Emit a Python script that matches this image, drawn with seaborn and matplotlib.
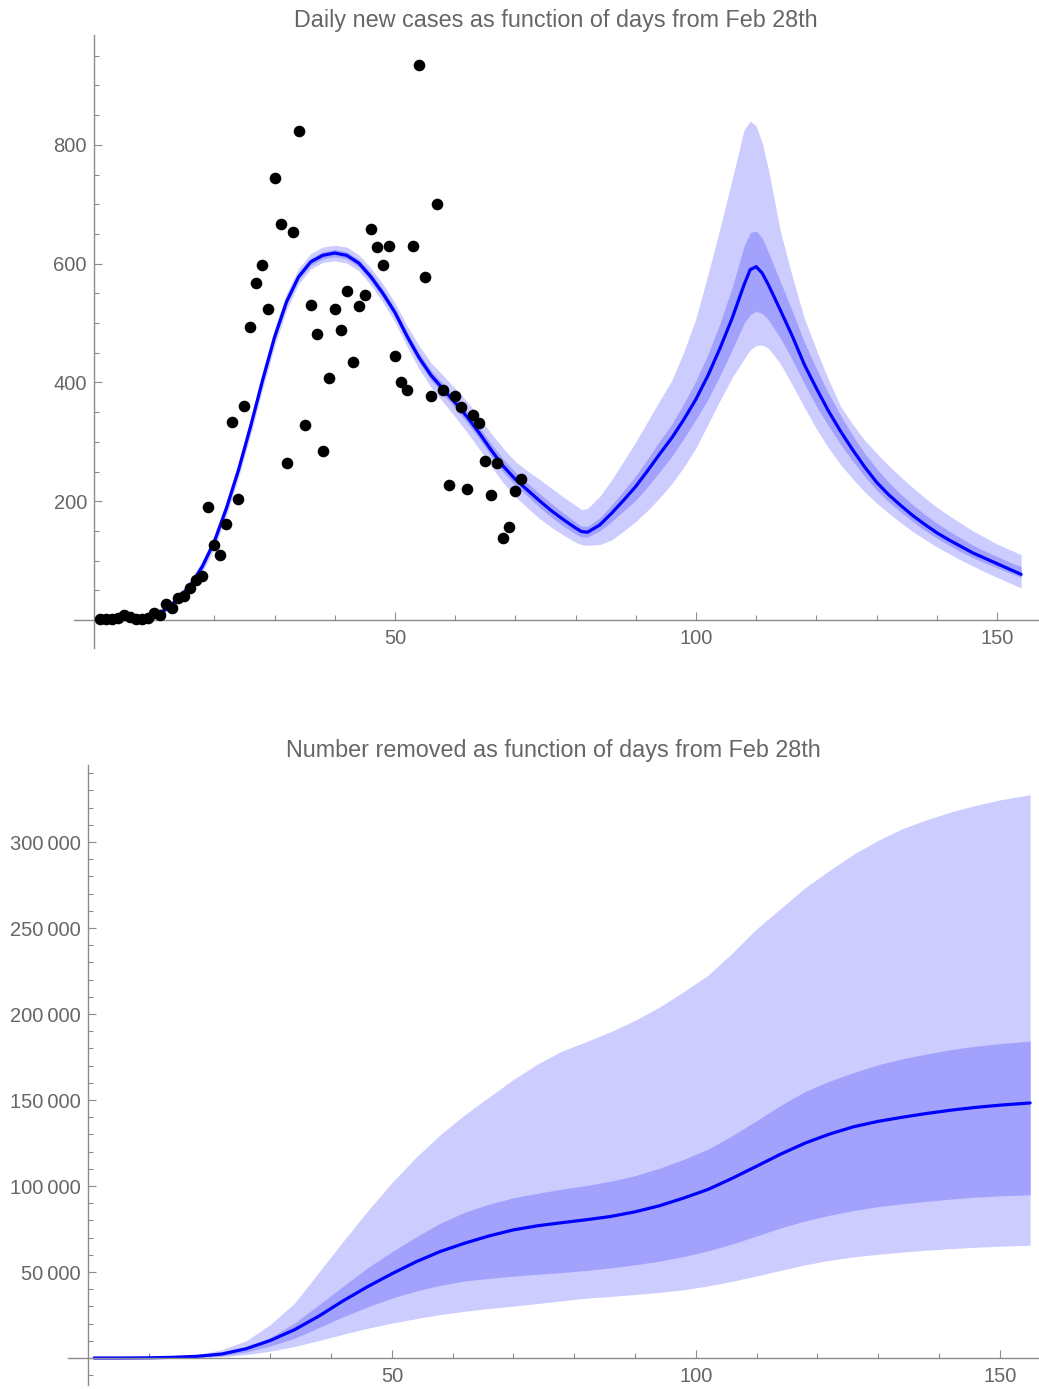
import numpy as np
import pandas as pd
import matplotlib
matplotlib.use("Agg")
import matplotlib.pyplot as plt
from matplotlib.ticker import FixedLocator, MultipleLocator, FuncFormatter
import seaborn as sns

sns.set_style("white")
plt.rcParams['font.family'] = ['Liberation Sans', 'DejaVu Sans']

# observed daily new cases (days from Feb 28th)
obs_day = list(range(1, 72))
obs_cases = [2, 2, 2, 4, 8, 5, 1, 1, 3, 12, 8, 27, 20, 38, 41, 54, 68, 74, 191, 127,
             110, 161, 334, 204, 361, 494, 567, 597, 524, 744, 667, 264, 654, 824, 328,
             530, 481, 284, 408, 524, 488, 554, 434, 528, 548, 658, 628, 597, 630, 444,
             401, 388, 630, 934, 578, 377, 701, 388, 228, 377, 358, 221, 345, 331, 267,
             211, 264, 138, 157, 217, 238]

# model for daily new cases
t_day = [1, 4, 7, 10, 12, 14, 16, 18, 20, 22, 24, 26, 28, 30, 32, 34, 36, 38, 40, 42,
         44, 46, 48, 50, 52, 54, 56, 58, 60, 62, 64, 66, 68, 70, 72, 74, 76, 78, 80, 81,
         82, 84, 86, 88, 90, 92, 94, 96, 98, 100, 102, 104, 106, 108, 109, 110, 111, 112,
         114, 116, 118, 120, 122, 124, 126, 128, 130, 132, 134, 136, 138, 140, 142, 144,
         146, 148, 150, 152, 154]
t_mean = [0.5, 1, 2.5, 8, 18, 36, 58, 90, 132, 188, 252, 325, 403, 476, 536, 578, 603,
          614, 618, 614, 601, 578, 550, 518, 478, 442, 412, 389, 366, 342, 315, 286, 259,
          237, 219, 201, 184, 169, 155, 149, 148, 160, 180, 202, 225, 252, 280, 307, 338,
          372, 412, 458, 508, 565, 590, 595, 584, 565, 522, 478, 430, 390, 352, 318, 287,
          258, 232, 211, 193, 176, 161, 147, 135, 124, 113, 104, 95, 86, 77]
t_in_hi = [0.8, 1.5, 3.2, 9.5, 20, 39, 61, 94, 136, 192, 256, 330, 408, 481, 541, 583,
           609, 620, 624, 620, 607, 585, 557, 525, 486, 450, 420, 398, 375, 352, 325, 297,
           271, 249, 231, 213, 196, 180, 165, 158, 158, 172, 194, 218, 243, 272, 302, 330,
           365, 403, 448, 500, 560, 630, 652, 655, 643, 620, 570, 520, 468, 423, 382, 345,
           311, 281, 255, 232, 212, 194, 178, 163, 150, 138, 126, 116, 107, 98, 90]
t_in_lo = [0.3, 0.6, 1.8, 6.5, 16, 33, 55, 86, 128, 184, 248, 320, 398, 471, 531, 573,
           597, 608, 612, 608, 595, 571, 543, 511, 470, 434, 404, 380, 357, 332, 305, 276,
           249, 227, 209, 190, 173, 158, 145, 140, 140, 150, 166, 184, 202, 225, 250, 276,
           306, 338, 372, 412, 455, 500, 514, 520, 516, 506, 475, 438, 398, 360, 327, 296,
           268, 242, 219, 199, 182, 166, 151, 138, 126, 115, 105, 96, 88, 80, 72]
t_out_hi = [1.2, 2.2, 4.5, 12, 24, 44, 67, 100, 143, 200, 265, 339, 418, 491, 550, 592,
            617, 628, 631, 628, 615, 593, 566, 534, 496, 462, 433, 412, 390, 368, 342, 314,
            289, 267, 251, 237, 222, 207, 193, 186, 188, 208, 236, 268, 300, 335, 370, 404,
            452, 508, 582, 660, 742, 826, 840, 832, 803, 760, 655, 578, 508, 455, 405, 360,
            330, 303, 281, 260, 241, 223, 206, 190, 176, 163, 150, 139, 128, 119, 110]
t_out_lo = [0.1, 0.3, 1.2, 5, 13, 30, 51, 80, 121, 176, 239, 311, 388, 461, 522, 566,
            591, 602, 605, 601, 588, 564, 535, 502, 461, 423, 392, 367, 342, 316, 288, 258,
            231, 208, 189, 171, 156, 143, 131, 127, 126, 127, 135, 150, 166, 185, 206, 230,
            258, 290, 330, 370, 408, 440, 455, 462, 463, 458, 432, 396, 358, 322, 290, 262,
            238, 216, 197, 180, 164, 149, 136, 123, 112, 101, 91, 81, 72, 63, 54]

# model for number removed
b_day = [1, 5, 10, 14, 18, 22, 26, 30, 34, 38, 42, 46, 50, 54, 58, 62, 66, 70, 74, 78,
         82, 86, 90, 94, 98, 102, 106, 110, 114, 118, 122, 126, 130, 134, 138, 142, 146,
         150, 155]
b_mean = [0, 0, 100, 400, 1000, 2300, 5400, 10200, 16500, 24400, 33300, 41500, 49000,
          56000, 62000, 66800, 71000, 74500, 76900, 78700, 80400, 82300, 85000, 88500,
          93000, 98000, 104500, 111500, 118600, 125000, 130200, 134500, 137600, 140000,
          142200, 144100, 145700, 147000, 148300]
b_in_hi = [0, 0, 100, 400, 700, 1800, 6000, 12000, 20400, 31000, 41800, 52500, 61800,
           70500, 78500, 84800, 89500, 93200, 95800, 98200, 100300, 102800, 106000, 110300,
           115500, 121400, 129300, 138000, 147000, 155000, 161000, 166000, 170500, 174000,
           176800, 179300, 181300, 182800, 184300]
b_in_lo = [0, 0, 50, 250, 500, 1200, 3500, 7000, 11500, 17700, 24000, 29700, 34800, 39000,
           42300, 44800, 46300, 47600, 48700, 49700, 50900, 52400, 54200, 56300, 59000,
           62300, 66300, 71000, 75700, 79700, 83000, 85800, 88000, 89700, 91100, 92400,
           93500, 94300, 94900]
b_out_hi = [0, 0, 150, 600, 2000, 4800, 10000, 19500, 32000, 50000, 68000, 85500, 102000,
            116800, 130000, 141500, 151800, 162000, 171000, 178500, 184000, 189700, 196300,
            204000, 213000, 222500, 235500, 249500, 261500, 273500, 283500, 293000, 301000,
            307800, 313000, 317500, 321300, 324500, 327500]
b_out_lo = [0, 0, 30, 150, 350, 800, 2000, 4000, 6700, 10200, 13800, 17300, 20300, 22900,
            25300, 27200, 28800, 30200, 31700, 33300, 34800, 35800, 36900, 38100, 39700,
            41900, 44600, 47700, 51000, 54200, 56800, 58800, 60300, 61600, 62700, 63600,
            64400, 65000, 65600]

OUTER = '#ccccff'
INNER = '#a2a2fd'
LINE = '#0000ff'
GREY_TXT = '#666666'
GREY_AX = '#8c8c8c'


def style_axes(ax, ymajor, yminor, xlim, ylim, yfmt=None):
    ax.set_xlim(*xlim)
    ax.set_ylim(*ylim)
    for s in ['top', 'right']:
        ax.spines[s].set_visible(False)
    ax.spines['left'].set_position(('data', 0))
    ax.spines['bottom'].set_position(('data', 0))
    for s in ['left', 'bottom']:
        ax.spines[s].set_color(GREY_AX)
        ax.spines[s].set_linewidth(1.0)
    ax.xaxis.set_major_locator(FixedLocator([50, 100, 150]))
    ax.xaxis.set_minor_locator(FixedLocator([10, 20, 30, 40, 60, 70, 80, 90, 110, 120, 130, 140]))
    ax.yaxis.set_major_locator(FixedLocator(ymajor))
    ax.yaxis.set_minor_locator(MultipleLocator(yminor))
    if yfmt is not None:
        ax.yaxis.set_major_formatter(FuncFormatter(yfmt))
    # seaborn "white" switches the tick marks off, bring them back
    ax.tick_params(which='both', bottom=True, left=True, top=False, right=False,
                   direction='in', color=GREY_AX, width=0.8,
                   labelcolor=GREY_TXT, labelsize=14.5)
    ax.tick_params(which='major', length=6)
    ax.tick_params(which='minor', length=3.5)
    ax.tick_params(axis='y', pad=5)
    ax.tick_params(axis='x', pad=6.5)
    ax.set_xlabel('')
    ax.set_ylabel('')
    ax.grid(False)


fig = plt.figure(figsize=(10.39, 13.89), dpi=100)

# top: daily new cases
ax1 = fig.add_axes([74 / 1039, 1 - 648 / 1389, 964 / 1039, 613 / 1389])
ax1.fill_between(t_day, t_out_lo, t_out_hi, color=OUTER, linewidth=0)
ax1.fill_between(t_day, t_in_lo, t_in_hi, color=INNER, linewidth=0)
sns.lineplot(x=t_day, y=t_mean, ax=ax1, color=LINE, linewidth=2.3, estimator=None)
sns.scatterplot(x=obs_day, y=obs_cases, ax=ax1, color='black', s=70, linewidth=0, zorder=5)
style_axes(ax1, [200, 400, 600, 800], 50, (-3.3, 156.8), (-47, 985))
ax1.set_title('Daily new cases as function of days from Feb 28th', color=GREY_TXT,
              fontsize=16.8, pad=6)

# bottom: number removed
ax2 = fig.add_axes([68 / 1039, 1 - 1385 / 1389, 970 / 1039, 620 / 1389])
ax2.fill_between(b_day, b_out_lo, b_out_hi, color=OUTER, linewidth=0)
ax2.fill_between(b_day, b_in_lo, b_in_hi, color=INNER, linewidth=0)
sns.lineplot(x=b_day, y=b_mean, ax=ax2, color=LINE, linewidth=2.3, estimator=None)
style_axes(ax2, [50000, 100000, 150000, 200000, 250000, 300000], 10000,
           (-3.3, 156.3), (-15700, 344800),
           yfmt=lambda v, p: f"{int(v):,}".replace(",", "\u2009"))
ax2.set_title('Number removed as function of days from Feb 28th', color=GREY_TXT,
              fontsize=16.8, pad=6)

fig.savefig('out.png', dpi=100)
